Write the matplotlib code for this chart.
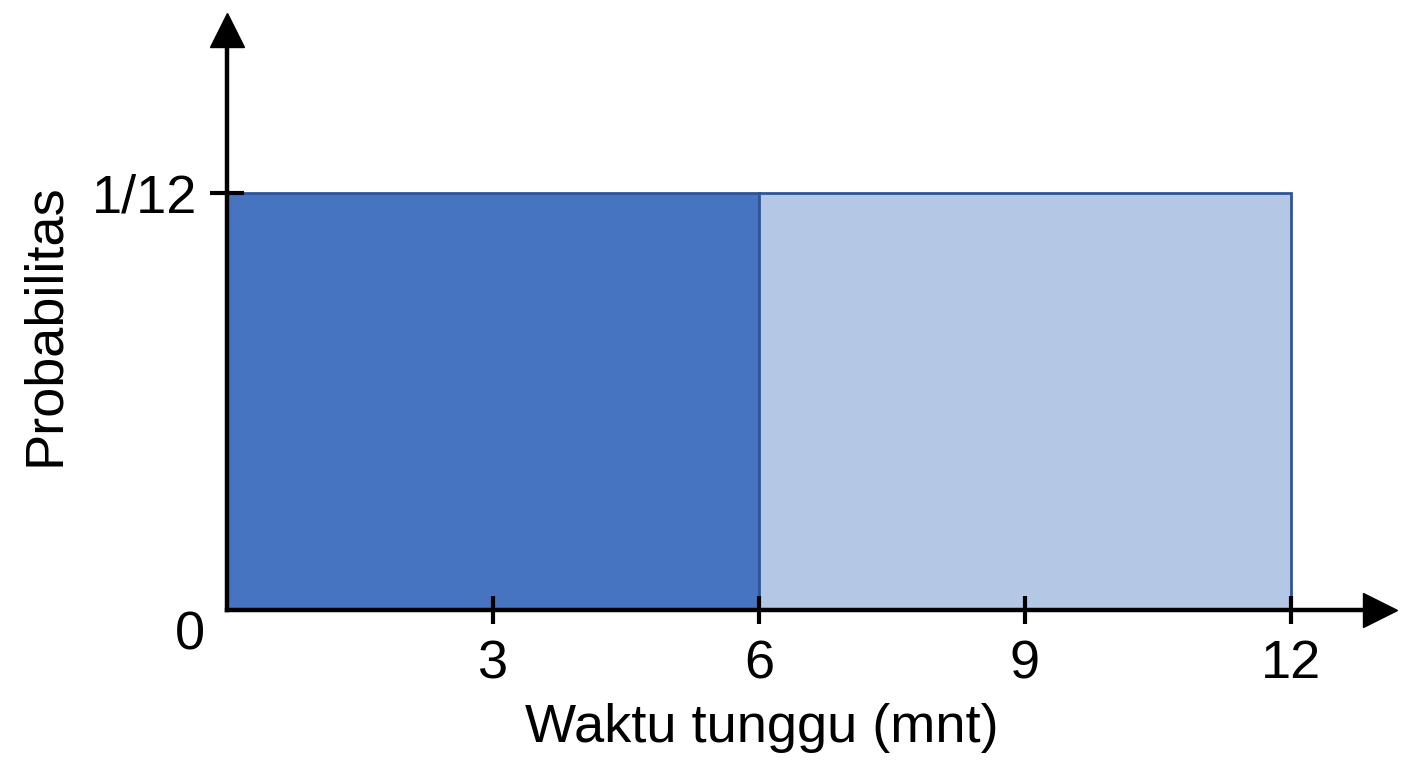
import matplotlib.pyplot as plt

plt.rcParams['font.family'] = ['Liberation Sans', 'DejaVu Sans']

# data
starts = [0, 6]
widths = [6, 6]
heights = [1 / 12, 1 / 12]
colors = ['#4674C1', '#B4C7E4']
x_ticks = [3, 6, 9, 12]
x_labels = ['3', '6', '9', '12']
y_ticks = [1 / 12]
y_labels = ['1/12']

FS = 39
# pixel layout: x=0 at 227, x=12 at 1291, y=0 at 610, y=1/12 at 193
left, right, top, bottom = 227, 1380, 30, 610
fig = plt.figure(figsize=(14.08, 7.68), dpi=100)
ax = fig.add_axes([left / 1408, 1 - bottom / 768, (right - left) / 1408, (bottom - top) / 768])
ax.set_axisbelow(False)

ax.bar(starts, heights, width=widths, align='edge', color=colors,
       edgecolor='#2F5597', linewidth=2, zorder=2)

ax.set_xlim(0, (right - left) / 88.67)
ax.set_ylim(0, (bottom - top) / 417 / 12)

for side in ['top', 'right']:
    ax.spines[side].set_visible(False)
for side in ['left', 'bottom']:
    ax.spines[side].set_linewidth(3.2)
    ax.spines[side].set_zorder(3)

# arrow heads
ax.plot(1, 0, '>k', ms=24, transform=ax.get_yaxis_transform(), clip_on=False, zorder=4)
ax.plot(0, 1, '^k', ms=24, transform=ax.get_xaxis_transform(), clip_on=False, zorder=4)

ax.set_xticks(x_ticks)
ax.set_xticklabels(x_labels)
ax.set_yticks(y_ticks)
ax.set_yticklabels(y_labels)
ax.tick_params(axis='x', direction='inout', length=20, width=3, labelsize=FS, pad=11)
ax.tick_params(axis='y', direction='inout', length=25, width=3, labelsize=FS, pad=9)

ax.text(-0.417, -0.005, '0', fontsize=FS, ha='center', va='center')

ax.set_xlabel('Waktu tunggu (mnt)', fontsize=FS, va='center')
ax.set_ylabel('Probabilitas', fontsize=FS, va='center')
ax.xaxis.set_label_coords((762 - left) / (right - left), (bottom - 728) / (bottom - top))
ax.yaxis.set_label_coords((45 - left) / (right - left), (bottom - 325) / (bottom - top))

fig.savefig('out.png', dpi=100)
